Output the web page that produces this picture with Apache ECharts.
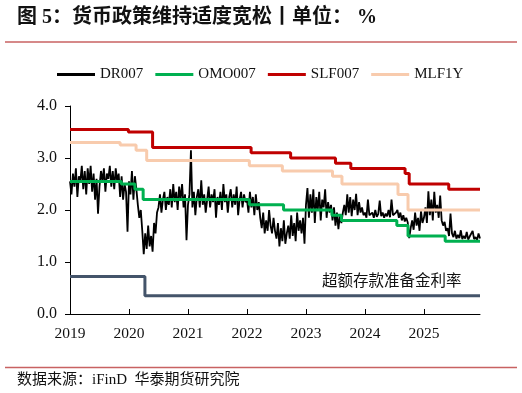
<!DOCTYPE html>
<html>
<head>
<meta charset="utf-8">
<script src="https://cdn.jsdelivr.net/npm/echarts@6/dist/echarts.min.js"></script>
<style>html,body{margin:0;padding:0;background:#fff;}#c{width:522px;height:393px;}</style>
</head>
<body>
<div id="c"></div>
<script>
// ---- data ----
var yearTicks = [2019, 2020, 2021, 2022, 2023, 2024, 2025];
var yTicks = [0, 1, 2, 3, 4];
var seriesNames = ['DR007', 'OMO007', 'SLF007', 'MLF1Y'];
var reserveLabel = '超额存款准备金利率';

// DR007: ~40 readings per year
var dr2019 = [2.55,2.30,2.70,2.45,2.80,2.25,2.65,2.55,2.85,2.40,2.75,2.30,2.80,2.50,2.85,2.35,2.70,2.20,2.60,1.93,
              2.45,2.75,2.55,2.80,2.35,2.70,2.60,2.85,2.45,2.75,2.40,2.80,2.55,2.70,2.25,2.65,2.20,2.50,2.35,1.58];
var dr2020 = [2.55,2.30,2.75,2.20,2.65,2.40,2.10,1.85,2.00,1.60,1.15,1.55,1.25,1.70,1.30,1.50,1.20,1.75,1.55,1.95,
              2.05,2.30,1.95,2.20,2.35,2.00,2.25,2.10,2.40,2.05,2.50,2.15,2.35,2.00,2.45,2.20,2.50,2.05,2.30,1.42];
var dr2021 = [2.10,2.30,3.15,2.05,2.35,1.90,2.25,2.40,2.05,2.57,2.10,2.30,1.95,2.20,2.45,2.05,2.30,2.15,2.40,1.85,
              2.25,2.10,2.35,2.00,2.50,2.15,2.30,1.95,2.25,2.40,2.05,2.30,2.10,2.45,1.90,2.20,2.35,2.05,2.30,2.15];
var dr2022 = [2.20,1.95,2.35,2.05,2.25,1.90,2.30,2.00,2.15,1.85,1.65,1.95,1.55,1.80,1.60,2.00,1.70,1.55,1.85,1.60,
              1.45,1.75,1.30,1.65,1.40,1.80,1.35,1.55,1.70,1.45,1.90,1.50,1.75,1.40,1.95,1.60,1.80,1.55,1.85,1.35];
var dr2023 = [2.10,2.42,1.85,2.30,1.95,2.40,1.75,2.25,2.00,2.35,1.80,2.20,2.05,2.40,1.85,2.15,1.95,2.10,1.80,2.05,
              1.70,1.95,1.63,1.90,1.75,1.95,2.10,1.90,2.30,1.95,2.25,1.88,2.20,2.00,2.31,1.90,2.15,1.95,2.05,1.90];
var dr2024 = [1.95,1.85,2.20,1.90,1.88,1.95,1.85,2.00,1.87,1.92,2.18,1.88,1.95,1.85,1.93,1.88,2.00,1.86,2.20,1.90,
              1.87,1.95,2.00,1.85,1.95,1.80,1.90,1.78,1.85,1.76,1.46,1.65,1.80,1.62,1.95,1.70,1.85,1.60,1.98,1.75];
var dr2025 = [1.85,2.05,1.75,2.36,1.90,2.20,1.80,2.35,1.95,2.10,1.85,2.28,1.80,1.70,1.77,1.60,1.65,1.50,1.93,1.55,
              1.48,1.60,1.45,1.52,1.46,1.61,1.44,1.50,1.45,1.58,1.43,1.49,1.46,1.60,1.44,1.48,1.42,1.55,1.45];
var drYears = [2019, 2020, 2021, 2022, 2023, 2024, 2025];
var drByYear = [dr2019, dr2020, dr2021, dr2022, dr2023, dr2024, dr2025];
var drPerYear = 40;

// policy rates: [decimal year of change, rate]
var omoDates = [2019, 2019.87, 2020.1, 2020.24, 2022.04, 2022.62, 2023.44, 2023.6, 2024.54, 2024.73, 2025.36, 2025.95];
var omoVals  = [2.55, 2.50, 2.40, 2.20, 2.10, 2.00, 1.90, 1.80, 1.70, 1.50, 1.40, 1.40];
var slfDates = [2019, 2019.99, 2020.4, 2022.07, 2022.74, 2023.5, 2023.76, 2024.68, 2024.75, 2025.42, 2025.95];
var slfVals  = [3.55, 3.50, 3.20, 3.10, 3.00, 2.90, 2.80, 2.70, 2.50, 2.40, 2.40];
var mlfDates = [2019, 2019.85, 2020.12, 2020.3, 2022.04, 2022.6, 2023.45, 2023.61, 2024.56, 2024.73, 2025.95];
var mlfVals  = [3.30, 3.25, 3.15, 2.95, 2.85, 2.75, 2.65, 2.50, 2.30, 2.00, 2.00];
var resDates = [2019, 2020.27, 2025.95];
var resVals  = [0.72, 0.35, 0.35];

// ---- build ----
function pairs(d, v) { return d.map(function (x, i) { return [x, v[i]]; }); }
var drData = [];
drByYear.forEach(function (arr, k) {
  arr.forEach(function (v, i) { drData.push([drYears[k] + i / drPerYear, v]); });
});

var serifCJK = '"Liberation Serif", "Noto Sans CJK SC", serif';
var chart = echarts.init(document.getElementById('c'), null, { renderer: 'canvas' });
chart.setOption({
  animation: false,
  backgroundColor: '#ffffff',
  title: {
    text: '图 5：货币政策维持适度宽松丨单位： %',
    left: 12, top: 3,
    textStyle: { fontFamily: serifCJK, fontSize: 20, fontWeight: 'bold', color: '#111' }
  },
  legend: {
    left: 52, top: 62,
    itemWidth: 38, itemHeight: 3, itemGap: 12,
    icon: 'rect',
    data: seriesNames,
    textStyle: { fontFamily: '"Liberation Serif", serif', fontSize: 15, color: '#111' }
  },
  graphic: [
    { type: 'line', shape: { x1: 5, y1: 42, x2: 517, y2: 42 }, style: { stroke: '#C86262', lineWidth: 1.5 } },
    { type: 'line', shape: { x1: 5, y1: 367.5, x2: 517, y2: 367.5 }, style: { stroke: '#C86262', lineWidth: 1.5 } },
    { type: 'text', left: 17, top: 373, style: { text: '数据来源：iFinD  华泰期货研究院', font: '15px "Liberation Serif", "Noto Sans CJK SC"', fill: '#111' } },
    { type: 'text', left: 322, top: 272, style: { text: reserveLabel, font: '15.5px "Noto Sans CJK SC"', fill: '#111' } }
  ],
  grid: { left: 70, right: 42, top: 106, bottom: 79, containLabel: false },
  xAxis: {
    type: 'value', min: 2019, max: 2025.95, interval: 1,
    axisLine: { lineStyle: { color: '#000', width: 1 } },
    axisTick: { inside: true, length: 5, lineStyle: { color: '#000' }, customValues: yearTicks },
    axisLabel: { customValues: yearTicks, margin: 12, fontFamily: '"Liberation Serif", serif', fontSize: 15.5, color: '#111',
      formatter: function (v) { return String(Math.round(v)); } },
    splitLine: { show: false }
  },
  yAxis: {
    type: 'value', min: 0, max: 4, interval: 1,
    axisLine: { show: true, lineStyle: { color: '#000', width: 1 } },
    axisTick: { show: true, length: 5, lineStyle: { color: '#000' } },
    axisLabel: { margin: 13, fontFamily: '"Liberation Serif", serif', fontSize: 16, color: '#111',
      formatter: function (v) { return v.toFixed(1); } },
    splitLine: { show: false }
  },
  series: [
    { name: 'DR007', type: 'line', data: drData, showSymbol: false, symbol: 'none',
      lineStyle: { color: '#000', width: 1.8 }, itemStyle: { color: '#000' } },
    { name: 'OMO007', type: 'line', step: 'end', data: pairs(omoDates, omoVals), symbol: 'none',
      lineStyle: { color: '#00B050', width: 3 }, itemStyle: { color: '#00B050' } },
    { name: 'SLF007', type: 'line', step: 'end', data: pairs(slfDates, slfVals), symbol: 'none',
      lineStyle: { color: '#C00000', width: 3 }, itemStyle: { color: '#C00000' } },
    { name: 'MLF1Y', type: 'line', step: 'end', data: pairs(mlfDates, mlfVals), symbol: 'none',
      lineStyle: { color: '#F8CBAD', width: 3 }, itemStyle: { color: '#F8CBAD' } },
    { name: reserveLabel, type: 'line', step: 'end', data: pairs(resDates, resVals), symbol: 'none',
      lineStyle: { color: '#44546A', width: 3 }, itemStyle: { color: '#44546A' } }
  ]
});
</script>
</body>
</html>
